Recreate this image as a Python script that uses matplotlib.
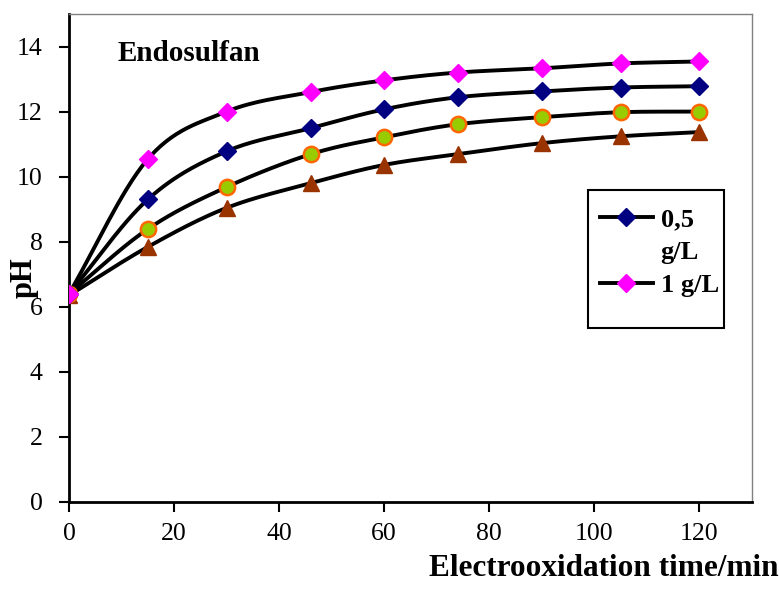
import numpy as np
import matplotlib
matplotlib.use("Agg")
import matplotlib.pyplot as plt
from matplotlib.patches import Rectangle
from matplotlib.lines import Line2D

time_min = [0, 15, 30, 46, 60, 74, 90, 105, 120]
ph_05 = [6.4, 9.3, 10.78, 11.49, 12.07, 12.44, 12.62, 12.74, 12.78]
ph_1 = [6.4, 10.54, 12.0, 12.6, 12.96, 13.2, 13.33, 13.48, 13.54]
ph_c = [6.4, 8.39, 9.68, 10.69, 11.21, 11.61, 11.83, 11.98, 12.0]
ph_d = [6.35, 7.84, 9.04, 9.8, 10.36, 10.69, 11.03, 11.24, 11.37]
label_05 = ["0,5", "g/L"]
label_1 = "1 g/L"
x_ticks = [0, 20, 40, 60, 80, 100, 120]
y_ticks = [0, 2, 4, 6, 8, 10, 12, 14]

plt.rcParams['font.family'] = ['Liberation Serif', 'DejaVu Serif']


def smooth(x, y, n=30):
    # Catmull-Rom style smoothing through the given points (display only)
    x = np.asarray(x, float); y = np.asarray(y, float)
    px = np.concatenate([[2 * x[0] - x[1]], x, [2 * x[-1] - x[-2]]])
    py = np.concatenate([[2 * y[0] - y[1]], y, [2 * y[-1] - y[-2]]])
    xs, ys = [], []
    for i in range(1, len(px) - 2):
        t = np.linspace(0, 1, n, endpoint=False)
        p0x, p1x, p2x, p3x = px[i - 1:i + 3]
        p0y, p1y, p2y, p3y = py[i - 1:i + 3]
        c1x = p1x + (p2x - p0x) / 6; c1y = p1y + (p2y - p0y) / 6
        c2x = p2x - (p3x - p1x) / 6; c2y = p2y - (p3y - p1y) / 6
        bx = (1 - t) ** 3 * p1x + 3 * (1 - t) ** 2 * t * c1x + 3 * (1 - t) * t ** 2 * c2x + t ** 3 * p2x
        by = (1 - t) ** 3 * p1y + 3 * (1 - t) ** 2 * t * c1y + 3 * (1 - t) * t ** 2 * c2y + t ** 3 * p2y
        xs.extend(bx); ys.extend(by)
    xs.append(x[-1]); ys.append(y[-1])
    return np.array(xs), np.array(ys)


fig = plt.figure(figsize=(7.79, 5.90), dpi=100)
ax = fig.add_axes([0.0886, 0.1492, 0.8767, 0.8271])

style_d = dict(marker='^', mfc='#993300', mec='#993300', ms=11, mew=1)
style_c = dict(marker='o', mfc='#99CC00', mec='#FF6600', ms=11, mew=1.8)
style_05 = dict(marker='D', mfc='#000080', mec='#000080', ms=9, mew=1)
style_1 = dict(marker='D', mfc='#FF00FF', mec='#FF00FF', ms=9, mew=1)

for ys, mk in [(ph_d, style_d), (ph_c, style_c), (ph_05, style_05), (ph_1, style_1)]:
    sx, sy = smooth(time_min, ys)
    ax.plot(sx, sy, color='black', lw=2.8, zorder=2)
    ax.plot(time_min, ys, ls='none', zorder=3, **mk)

ax.set_xlim(0, 130)
ax.set_ylim(0, 15)
ax.set_xticks(x_ticks)
ax.set_yticks(y_ticks)
ax.tick_params(direction='out', length=7, width=1.5, labelsize=18.5, color='black')
ax.tick_params(axis='x', pad=8)
ax.tick_params(axis='y', pad=12)
for s in ['left', 'bottom']:
    ax.spines[s].set_linewidth(2)
    ax.spines[s].set_color('black')
for s in ['top', 'right']:
    ax.spines[s].set_linewidth(1)
    ax.spines[s].set_color('#808080')

ax.text(0.0717, 0.920, "Endosulfan", transform=ax.transAxes, fontsize=21,
        fontweight='bold', va='center', ha='left')
fig.text(0.031, 0.530, "pH", rotation=90, fontsize=22, fontweight='bold',
         ha='center', va='center')
fig.text(0.999, 0.012, "Electrooxidation time/min", fontsize=22.5, fontweight='bold',
         ha='right', va='bottom')

# legend (label of first entry wraps onto a second line as in the original)
h05 = Line2D([], [], color='black', lw=2.8, **style_05)
hblank = Line2D([], [], color='none', lw=0)
h1 = Line2D([], [], color='black', lw=2.8, **style_1)
ax.add_patch(Rectangle((0.760, 0.357), 0.199, 0.282, transform=ax.transAxes,
                       fill=True, facecolor='white', edgecolor='black', lw=1.5, zorder=4))
leg = ax.legend(handles=[h05, hblank, h1], labels=[label_05[0], label_05[1], label_1],
                loc='upper left', bbox_to_anchor=(0.760, 0.627),
                prop={'weight': 'bold', 'size': 19}, frameon=False,
                handlelength=2.0, labelspacing=0.35,
                borderpad=0.45, handletextpad=0.3, borderaxespad=0)
leg.set_zorder(5)

fig.savefig("out.png", dpi=100)
